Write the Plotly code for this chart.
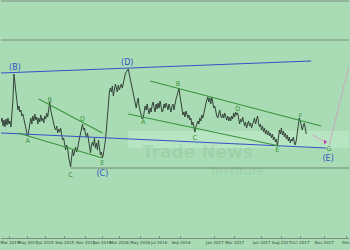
import plotly.graph_objects as go

# ---- price series (bar index, level) ----
price = [128,132,124,130,123,131,125,132,126,129,123,133,150,176,165,155,145,140,144,138,
         140,134,136,131,124,120,117,114,122,128,132,126,134,129,136,130,133,126,132,128,
         135,129,132,127,134,131,137,133,142,148,140,135,130,126,122,120,124,117,121,118,
         122,115,110,112,104,100,105,102,93,87,83,92,100,94,98,103,98,101,107,112,
         117,123,126,120,122,116,113,117,110,103,97,105,108,104,112,102,107,100,110,102,
         95,98,92,96,102,110,120,135,150,158,162,158,164,154,160,166,162,158,165,160,
         163,166,162,168,172,176,178,180,181,176,171,166,162,158,150,146,142,148,152,143,
         138,134,131,132,138,144,140,146,140,136,142,138,145,148,142,138,146,141,147,142,
         149,144,138,140,146,142,147,144,140,146,142,138,144,146,140,147,151,154,160,162,
         154,146,142,135,138,133,139,136,132,135,130,132,125,128,122,118,123,126,129,126,
         132,129,135,132,138,142,146,150,153,148,152,146,153,148,142,144,138,134,132,137,
         140,134,132,136,132,137,133,130,134,129,133,129,134,131,137,133,138,135,137,130,
         126,131,128,133,127,124,128,122,126,129,124,127,122,125,129,132,126,131,134,127,
         123,126,120,124,118,122,116,120,115,119,114,117,112,116,110,113,108,111,104,112,
         120,116,122,115,119,113,117,111,115,109,113,107,111,109,113,107,105,110,118,126,
         132,129,124,120,124,127,122,116]
bars = list(range(len(price)))

# ---- wave structure lines (bar, level) ----
upper_channel_x = [0, 312];   upper_channel_y = [177, 189]
lower_channel_x = [0, 327];   lower_channel_y = [117, 102]
tri1_upper_x = [38, 102];     tri1_upper_y = [151, 117]
tri1_lower_x = [17, 102];     tri1_lower_y = [117, 92]
tri2_upper_x = [150, 322];    tri2_upper_y = [169, 124]
tri2_lower_x = [128, 280];    tri2_lower_y = [136, 104]
proj_short_x = [313, 326];    proj_short_y = [115, 108]
proj_long_x = [330, 352];     proj_long_y = [105, 192]
c_level_x = [70, 350];        c_level_y = [82, 82]
full_levels = [249, 210]

# ---- labels ----
major_labels = ["(B)", "(D)", "(C)", "(E)"]
major_x = [14, 127, 102, 329]
major_y = [182, 187, 76, 91]
minor_labels = ["A", "B", "C", "D", "E", "A", "B", "C", "D", "E", "F", "G"]
minor_x = [27, 49, 70, 82, 102, 143, 178, 195, 238, 278, 301, 330]
minor_y = [109, 150, 75, 131, 87, 128, 166, 112, 141, 100, 134, 101]

# ---- date axis ----
tick_pos = [9, 27, 45, 64, 85, 102, 119, 140, 159, 181, 215, 235, 262, 282, 301, 325, 347]
tick_text = ["Mar 2015", "May 2015", "Jul 2015", "Sep 2015", "Nov 2015", "Jan 2016",
             "Mar 2016", "May 2016", "Jul 2016", "Sep 2016", "Jan 2017", "Mar 2017",
             "Jun 2017", "Aug 2017", "Oct 2017", "Nov 2017", "Dec"]

BG = "#a9dcb5"
BLUE = "#3452c4"
GREEN = "#3a943c"
GRAY = "#7c8e80"

fig = go.Figure()

# watermark band
fig.add_shape(type="rect", x0=128, x1=350, y0=102, y1=119, xref="x", yref="y",
              fillcolor="rgba(200,238,208,0.45)", line_width=0, layer="below")

for lv in full_levels:
    fig.add_trace(go.Scatter(x=[0, 350], y=[lv, lv], mode="lines",
                             line=dict(color=GRAY, width=1), hoverinfo="skip"))
fig.add_trace(go.Scatter(x=c_level_x, y=c_level_y, mode="lines",
                         line=dict(color="#6f8374", width=1)))

fig.add_trace(go.Scatter(x=bars, y=price, mode="lines",
                         line=dict(color="#34443a", width=1)))

for xs, ys, col in [(upper_channel_x, upper_channel_y, BLUE),
                    (lower_channel_x, lower_channel_y, BLUE),
                    (tri1_upper_x, tri1_upper_y, GREEN),
                    (tri1_lower_x, tri1_lower_y, GREEN),
                    (tri2_upper_x, tri2_upper_y, GREEN),
                    (tri2_lower_x, tri2_lower_y, GREEN)]:
    fig.add_trace(go.Scatter(x=xs, y=ys, mode="lines", line=dict(color=col, width=1.1)))

fig.add_trace(go.Scatter(x=proj_short_x, y=proj_short_y, mode="lines+markers",
                         line=dict(color="#e0a0c8", width=1),
                         marker=dict(color=["rgba(0,0,0,0)", "#d030b0"], size=4,
                                     symbol="triangle-right")))
fig.add_trace(go.Scatter(x=proj_long_x, y=proj_long_y, mode="lines",
                         line=dict(color="#c8a8c0", width=1)))

fig.add_trace(go.Scatter(x=major_x, y=major_y, mode="text", text=major_labels,
                         textfont=dict(color=BLUE, size=8, family="DejaVu Sans")))
fig.add_trace(go.Scatter(x=minor_x, y=minor_y, mode="text", text=minor_labels,
                         textfont=dict(color=GREEN, size=6.5, family="DejaVu Sans")))

# watermark text
fig.add_annotation(x=198, y=98, text="<b>Trade News</b>", showarrow=False,
                   font=dict(size=17, color="rgba(60,110,70,0.10)", family="DejaVu Sans"))
fig.add_annotation(x=238, y=79, text="<b>Institute</b>", showarrow=False,
                   font=dict(size=11, color="rgba(60,110,70,0.09)", family="DejaVu Sans"))

fig.update_layout(
    width=350, height=250, margin=dict(l=0, r=0, t=0, b=12),
    paper_bgcolor=BG, plot_bgcolor=BG, showlegend=False,
    xaxis=dict(range=[0, 350], tickvals=tick_pos, ticktext=tick_text, showgrid=False,
               zeroline=False, showline=True, linecolor=GRAY, linewidth=1,
               ticks="inside", ticklen=2, tickcolor=GRAY, tickangle=0,
               ticklabeloverflow="allow",
               tickfont=dict(size=4, color="#3a463e", family="DejaVu Sans")),
    yaxis=dict(range=[12, 250], visible=False, showgrid=False),
)

fig.write_html("out.html")
